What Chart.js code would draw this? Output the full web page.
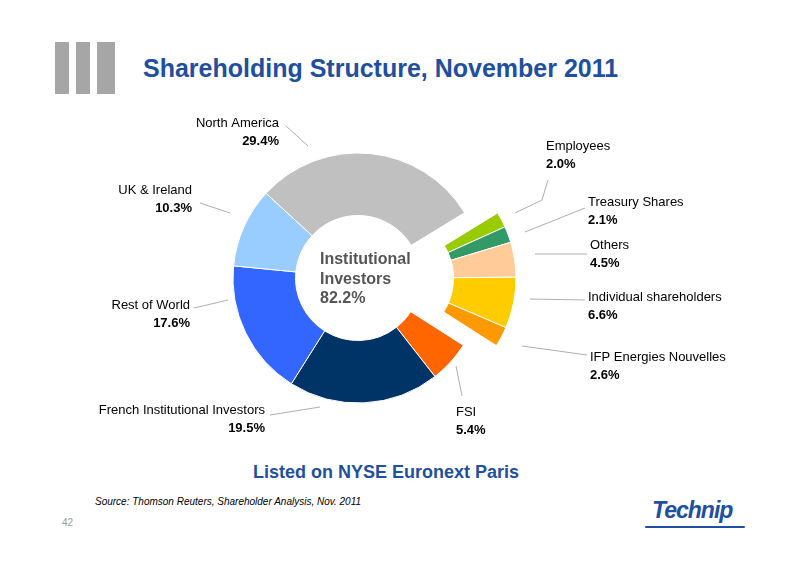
<!DOCTYPE html>
<html><head><meta charset="utf-8">
<script src="https://cdn.jsdelivr.net/npm/chart.js@4"></script>
<style>
body{margin:0;width:800px;height:565px;position:relative;background:#fff;font-family:"Liberation Sans",Arial,sans-serif;overflow:hidden}
#c{position:absolute;left:0;top:0}
.t{position:absolute;white-space:nowrap}
</style></head><body>
<div class="t" style="left:55px;top:42px;width:14px;height:52px;background:#a6a6a6"></div>
<div class="t" style="left:76px;top:42px;width:14px;height:52px;background:#a6a6a6"></div>
<div class="t" style="left:97px;top:42px;width:18px;height:52px;background:#a6a6a6"></div>
<div class="t" style="left:143px;top:54px;font-size:25px;font-weight:bold;color:#1f4fa0">Shareholding Structure, November 2011</div>
<div class="t" style="left:253px;top:462px;font-size:18px;font-weight:bold;color:#1f4fa0">Listed on NYSE Euronext Paris</div>
<div class="t" style="left:95px;top:496px;font-size:10px;font-style:italic;color:#000">Source: Thomson Reuters, Shareholder Analysis, Nov. 2011</div>
<div class="t" style="left:62px;top:517px;font-size:10px;color:#999">42</div>
<div class="t" style="left:652px;top:497px;font-size:23px;font-weight:bold;font-style:italic;color:#1f4fa0;letter-spacing:-1px">Technip</div>
<div class="t" style="left:645px;top:526px;width:100px;height:2px;background:#1f4fa0;border-radius:2px"></div>
<canvas id="c" width="800" height="565"></canvas>
<script>
const categories=["Employees","Treasury Shares","Others","Individual shareholders","IFP Energies Nouvelles","FSI","French Institutional Investors","Rest of World","UK & Ireland","North America"];
const values=[2.0,2.1,4.5,6.6,2.6,5.4,19.5,17.6,10.3,29.4];
const colors=["#99cc00","#339966","#ffcc99","#ffcc00","#ff9900","#ff6600","#003366","#3366ff","#99ccff","#c0c0c0"];
const exploded=[true,true,true,true,true,false,false,false,false,false];
const labelPos=[
 {x:546,y:146,a:"left",line:[[548,180],[542,200],[515,213]]},
 {x:588,y:202,a:"left",line:[[585,208],[525,232]]},
 {x:590,y:245,a:"left",line:[[587,254],[535,254]]},
 {x:588,y:297,a:"left",line:[[585,300],[530,299]]},
 {x:590,y:357,a:"left",line:[[587,355],[522,346]]},
 {x:456,y:412,a:"left",line:[[462,396],[456,366]]},
 {x:265,y:410,a:"right",line:[[270,415],[320,407]]},
 {x:190,y:305,a:"right",line:[[194,308],[228,300]]},
 {x:192,y:190,a:"right",line:[[200,203],[230,213]]},
 {x:279,y:123,a:"right",line:[[286,126],[308,146]]}
];
const rotation=58.5;
const labelsPlugin={id:"lbl",afterDraw(ch){
 const c=ch.ctx;c.save();
 c.strokeStyle="#999";c.lineWidth=0.8;
 labelPos.forEach((p,i)=>{
  c.beginPath();c.moveTo(p.line[0][0],p.line[0][1]);
  for(let k=1;k<p.line.length;k++)c.lineTo(p.line[k][0],p.line[k][1]);c.stroke();
  c.fillStyle="#000";c.textAlign=p.a;c.textBaseline="middle";
  c.font="13px 'Liberation Sans',Arial";c.fillText(categories[i],p.x,p.y);
  c.font="bold 13px 'Liberation Sans',Arial";c.fillText(values[i].toFixed(1)+"%",p.x,p.y+18);
 });
 c.fillStyle="#555";c.textAlign="left";c.font="bold 16px 'Liberation Sans',Arial";
 c.fillText("Institutional",320,260);c.fillText("Investors",320,280);
 const inst=values.slice(5).reduce((a,b)=>a+b,0);
 c.fillText(inst.toFixed(1)+"%",320,299);
 c.restore();
}};
const ch=new Chart(document.getElementById("c"),{type:"doughnut",
 data:{labels:categories,datasets:[{data:values,backgroundColor:colors,borderColor:"#fff",borderWidth:1}]},
 options:{responsive:false,animation:false,rotation:rotation,cutout:"50%",radius:125,
  layout:{padding:{left:0,right:84,top:0,bottom:9}},
  plugins:{legend:{display:false},tooltip:{enabled:false}}},
 plugins:[labelsPlugin]});
const tot=values.reduce((a,b)=>a+b,0);
const grp=values.filter((v,i)=>exploded[i]).reduce((a,b)=>a+b,0);
const mid=(rotation+grp/tot*180)*Math.PI/180;
const d=33,dx=Math.sin(mid)*d,dy=-Math.cos(mid)*d;
ch.getDatasetMeta(0).data.forEach((el,i)=>{
 if(!exploded[i])return;
 const orig=el.draw.bind(el);
 el.draw=function(ctx,area){ctx.save();ctx.translate(dx,dy);orig(ctx,area);ctx.restore();};
});
ch.draw();
</script></body></html>
